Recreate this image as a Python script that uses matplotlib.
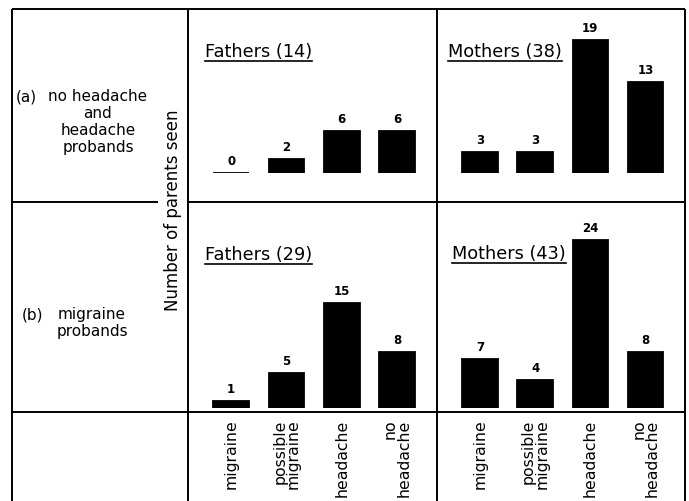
import matplotlib
matplotlib.use('Agg')
import matplotlib.pyplot as plt

# data
categories = ['migraine', 'possible\nmigraine', 'headache', 'no\nheadache']
fathers_a = [0, 2, 6, 6]
mothers_a = [3, 3, 19, 13]
fathers_b = [1, 5, 15, 8]
mothers_b = [7, 4, 24, 8]
row_a_label = 'no headache\nand\nheadache\nprobands'
row_b_label = 'migraine\nprobands'
ylabel = 'Number of parents seen'

W, H = 689, 502
PX_PER_UNIT = 7.0
plt.rcParams['font.family'] = ['DejaVu Sans']


def rect(x0, y0, x1, y1):
    # pixel box (top-left origin) -> figure fraction
    return [x0 / W, 1 - y1 / H, (x1 - x0) / W, (y1 - y0) / H]


fig = plt.figure(figsize=(W / 100, H / 100), dpi=100)
fig.patch.set_facecolor('white')

# overlay for the table lines and row labels, in pixel coords
ov = fig.add_axes([0, 0, 1, 1])
ov.set_xlim(0, W)
ov.set_ylim(H, 0)
ov.axis('off')

lk = dict(color='black', lw=1.4, solid_capstyle='butt')
ov.plot([12, 685], [10, 10], **lk)
ov.plot([12, 12], [10, H], **lk)
ov.plot([685, 685], [10, H], **lk)
ov.plot([188, 188], [10, H], **lk)
ov.plot([437, 437], [10, H], **lk)
ov.plot([12, 158], [203, 203], **lk)
ov.plot([188, 685], [203, 203], **lk)
ov.plot([12, 685], [413, 413], **lk)

ov.text(16, 97, '(a)', fontsize=11, ha='left', va='center')
ov.text(98, 122, row_a_label, fontsize=11, ha='center', va='center',
        multialignment='center', linespacing=1.15)
ov.text(22, 315, '(b)', fontsize=11, ha='left', va='center')
ov.text(92, 323, row_b_label, fontsize=11, ha='center', va='center',
        multialignment='center', linespacing=1.15)
ov.text(173, 210, ylabel, fontsize=12, rotation=90, ha='center', va='center')

panels = [
    (fathers_a, 'Fathers', (188, 437), (10, 174), (205, 52)),
    (mothers_a, 'Mothers', (437, 685), (10, 174), (448, 52)),
    (fathers_b, 'Fathers', (188, 437), (203, 409), (205, 255)),
    (mothers_b, 'Mothers', (437, 685), (203, 409), (452, 254)),
]

titles = []
for k, (vals, who, (x0, x1), (y0, base), (tx, ty)) in enumerate(panels):
    ax = fig.add_axes(rect(x0, y0, x1, base))
    ax.set_xlim(-0.78, 3.72)
    ax.set_ylim(0, (base - y0) / PX_PER_UNIT)
    ax.axis('off')
    xs = range(len(vals))
    ax.bar(xs, vals, width=0.64, color='black', edgecolor='black', linewidth=1.3)
    for i, v in enumerate(vals):
        ax.annotate(str(v), xy=(i, v), xytext=(0, 4), textcoords='offset points',
                    ha='center', va='bottom', fontsize=8.5, fontweight='bold')
    if k >= 2:
        for i, c in enumerate(categories):
            ax.annotate(c, xy=(i, 0), xycoords=('data', 'axes fraction'),
                        xytext=(0, -7.5), textcoords='offset points',
                        rotation=90, ha='center', va='top',
                        multialignment='right', fontsize=11.3,
                        linespacing=0.85, annotation_clip=False)
    t = ov.text(tx, ty, '%s (%d)' % (who, sum(vals)), fontsize=12.8,
                ha='left', va='center')
    titles.append(t)

# underline the panel titles
fig.canvas.draw()
inv = ov.transData.inverted()
for t in titles:
    bb = t.get_window_extent()
    (xa, yb), (xb, _) = inv.transform([(bb.x0, bb.y0), (bb.x1, bb.y0)])
    ov.plot([xa, xb], [yb + 1, yb + 1], color='black', lw=1.2)

fig.savefig('out.png', dpi=100)
